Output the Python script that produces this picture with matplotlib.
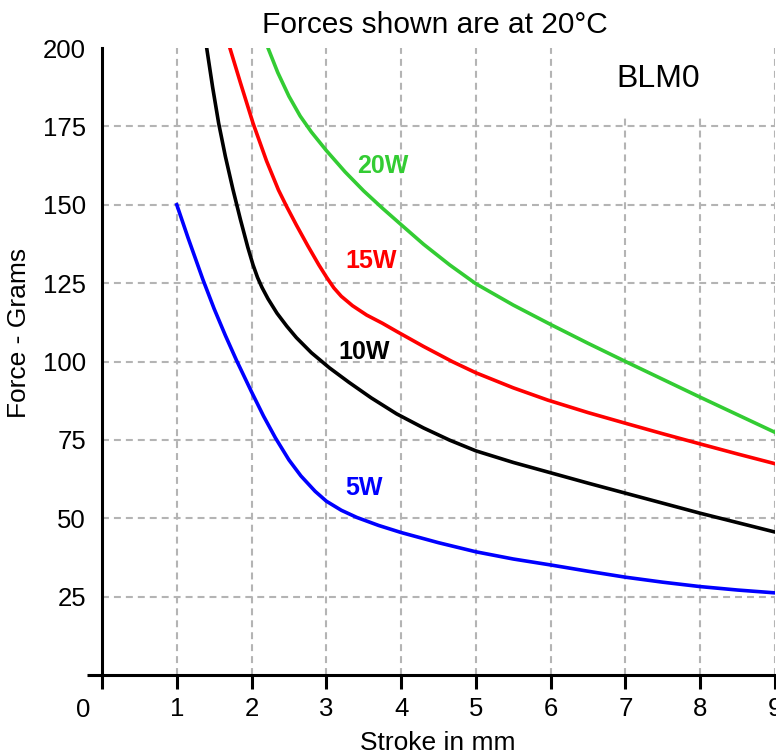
import matplotlib
matplotlib.use("Agg")
import matplotlib.pyplot as plt
from matplotlib.patches import Rectangle

plt.rcParams['font.family'] = ['Liberation Sans', 'DejaVu Sans']
plt.rcParams['lines.scale_dashes'] = False

# ---- data ----
x_5w = [1.0, 1.15, 1.35, 1.5, 1.65, 1.8, 2.0, 2.16, 2.32, 2.5, 2.66, 2.85, 3.0, 3.2, 3.41,
        3.7, 4.0, 4.5, 5.0, 5.5, 6.0, 6.5, 7.0, 7.5, 8.0, 8.5, 9.0]
y_5w = [150, 139.5, 126.1, 116.8, 108.3, 100.3, 90.3, 82.6, 75.6, 68.6, 63.5, 58.6, 55.45, 52.55, 50.24,
        47.7, 45.45, 42.2, 39.3, 37.0, 35.1, 33.1, 31.2, 29.6, 28.2, 27.1, 26.2]

x_10w = [1.40, 1.48, 1.56, 1.65, 1.75, 1.85, 1.95, 2.02, 2.08, 2.14, 2.22, 2.34, 2.47, 2.6, 2.8,
         3.04, 3.3, 3.6, 3.94, 4.3, 4.65, 5.0, 5.5, 6.0, 6.5, 7.0, 7.5, 8.0, 8.5, 9.0]
y_10w = [200, 187.4, 176.0, 165.4, 155.0, 145.4, 136.4, 130.8, 126.8, 123.6, 120.0, 115.4, 111.3, 107.6, 102.8,
         98.0, 93.4, 88.4, 83.3, 78.8, 74.9, 71.5, 67.8, 64.5, 61.2, 58.0, 54.8, 51.6, 48.6, 45.6]

x_15w = [1.71, 1.85, 2.02, 2.2, 2.36, 2.47, 2.6, 2.75, 2.9, 3.0, 3.1, 3.2, 3.35, 3.54, 3.75,
         3.94, 4.3, 4.69, 5.0, 5.5, 5.96, 6.5, 7.0, 7.5, 8.0, 8.5, 9.0]
y_15w = [200, 189, 176, 164, 154.7, 149.4, 143.5, 137, 130.8, 127, 123.5, 120.8, 117.8, 114.8, 112.2,
         109.6, 104.8, 99.9, 96.4, 91.6, 87.7, 83.7, 80.3, 76.95, 73.7, 70.5, 67.4]

x_20w = [2.22, 2.35, 2.5, 2.65, 2.8, 3.0, 3.25, 3.5, 3.75, 4.0, 4.3, 4.65, 5.0, 5.5, 6.0,
         6.5, 7.0, 7.5, 8.0, 8.5, 9.0]
y_20w = [200, 192.2, 184.6, 178.3, 173.2, 167.3, 160.5, 154.4, 148.9, 143.65, 137.4, 130.8, 124.8, 118.0, 111.8,
         105.8, 100.0, 94.3, 88.6, 83.0, 77.4]

series_names = ['5W', '10W', '15W', '20W']
series_colors = ['#0000FF', '#000000', '#FF0000', '#33CC33']
label_pos = [(3.50, 57.4), (3.50, 100.8), (3.60, 129.8), (3.76, 160.0)]  # baselines

x_ticks = [1, 2, 3, 4, 5, 6, 7, 8, 9]
y_ticks = [25, 50, 75, 100, 125, 150, 175, 200]

title = 'Forces shown are at 20°C'
x_label = 'Stroke in mm'
y_label = 'Force - Grams'
model = 'BLM0'

# ---- figure ----
W, H = 776, 754
fig = plt.figure(figsize=(W / 100, H / 100), dpi=100)
ax = fig.add_axes([102 / W, (H - 675) / H, 673 / W, 627 / H])
ax.set_xlim(0, 9)
ax.set_ylim(0, 200)

grid_kw = dict(color='#b4b4b4', lw=1.5, linestyle=(0, (5, 3.6)), zorder=1)
for gx in x_ticks:
    ax.axvline(gx, **grid_kw)
for gy in y_ticks[:-1]:
    ax.axhline(gy, **grid_kw)

# white box behind the model name
ax.add_patch(Rectangle((6.45, 177.6), 2.1, 30, facecolor='white', edgecolor='none',
                       zorder=2, clip_on=False))

series = [(x_5w, y_5w), (x_10w, y_10w), (x_15w, y_15w), (x_20w, y_20w)]
for (xs, ys), name, col, (lx, ly) in zip(series, series_names, series_colors, label_pos):
    ax.plot(xs, ys, color=col, lw=2.6, zorder=3, solid_joinstyle='round')
    ax.text(lx, ly, name, color=col, fontsize=18, fontweight='bold',
            ha='center', va='baseline', zorder=4)

ax.text(7.44, 187.6, model, fontsize=23, ha='center', va='baseline', zorder=4)

for s in ['top', 'right', 'bottom']:
    ax.spines[s].set_visible(False)
ax.spines['left'].set_linewidth(2.2)
ax.plot([-0.2, 9.05], [0, 0], color='black', lw=2.2, clip_on=False, zorder=5,
        solid_capstyle='butt')

ax.set_xticks([0] + x_ticks)
ax.set_xticklabels([''] + [str(v) for v in x_ticks])
ax.tick_params(axis='x', direction='out', length=10, width=2.2, pad=5.5, labelsize=18.5)
ax.set_yticks(y_ticks)
ax.set_yticklabels([str(v) for v in y_ticks])
ax.tick_params(axis='y', length=0, pad=11.5, labelsize=18.5)

ax.annotate('0', xy=(0, 0), xytext=(-19 * 0.72, -35 * 0.72), textcoords='offset points',
            ha='center', va='center', fontsize=18.5, annotation_clip=False)

fig.text(435 / W, 1 - 33 / H, title, fontsize=21.5, ha='center', va='baseline')
fig.text(438 / W, 1 - 750 / H, x_label, fontsize=19, ha='center', va='baseline')
fig.text(19 / W, 1 - 333 / H, y_label, fontsize=19, ha='center', va='center', rotation=90)

fig.savefig('out.png', dpi=100)
